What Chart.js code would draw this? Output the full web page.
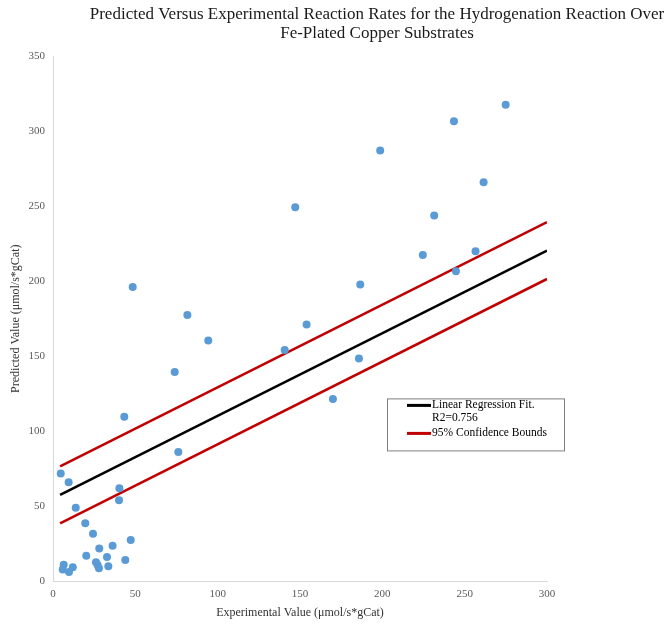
<!DOCTYPE html>
<html>
<head>
<meta charset="utf-8">
<script src="https://cdn.jsdelivr.net/npm/chart.js@4/dist/chart.umd.min.js"></script>
<style>
  html, body { margin: 0; padding: 0; background: #fff; overflow: hidden; }
  #wrap { width: 672px; height: 624px; overflow: hidden; position: relative; }
  #box { position: absolute; left: 0; top: 0; width: 754px; height: 624px; }
</style>
</head>
<body>
<div id="wrap"><div id="box"><canvas id="rateChart"></canvas></div></div>
<script>
const titleLines = ['Predicted Versus Experimental Reaction Rates for the Hydrogenation Reaction Over', 'Fe-Plated Copper Substrates'];
const xTitle = 'Experimental Value (μmol/s*gCat)';
const yTitle = 'Predicted Value (μmol/s*gCat)';

// measured points
const expX = [4.7, 9.5, 13.8, 19.6, 24.3, 47.2, 36.2, 28.1, 20.2, 32.8, 43.9, 26.1, 27.1, 27.9, 33.6, 6.5, 5.9, 9.7, 12.0, 40.3,
              40.1, 76.1, 43.3, 73.9, 94.3, 81.6, 48.4, 140.7, 154.0, 185.8, 170.0, 186.6, 147.1, 198.7, 224.6, 231.5, 244.7, 256.6, 261.5, 243.5, 274.9];
const predY = [71.7, 65.9, 48.8, 38.5, 31.6, 27.4, 23.6, 21.6, 16.9, 16.0, 14.0, 12.5, 10.7, 8.5, 9.8, 10.9, 7.6, 6.0, 9.1, 61.9,
               53.9, 86.0, 109.6, 139.4, 160.5, 177.5, 196.2, 154.1, 171.2, 148.5, 121.4, 197.9, 249.4, 287.2, 217.5, 243.8, 206.6, 220.0, 266.1, 306.8, 317.8];

// fit line and bounds (end points)
const fitX = [4.3, 300];
const fitY = [57.4, 220.4];
const upperY = [76.4, 239.4];
const lowerY = [38.5, 201.5];

const xTicks = [0, 50, 100, 150, 200, 250, 300];
const yTicks = [0, 50, 100, 150, 200, 250, 300, 350];

const pts = (xs, ys) => xs.map((x, i) => ({ x: x, y: ys[i] }));
const serif = "'Liberation Serif', 'Times New Roman', serif";

const boxLegend = {
    id: 'boxLegend',
    afterDraw(chart, args, opts) {
        const ctx = chart.ctx;
        const a = chart.chartArea;
        const left = a.left + opts.dx, top = a.top + opts.dy;
        ctx.save();
        ctx.fillStyle = '#fff';
        ctx.fillRect(left, top, opts.w, opts.h);
        ctx.strokeStyle = '#7f7f7f';
        ctx.lineWidth = 1;
        ctx.strokeRect(left + 0.5, top + 0.5, opts.w, opts.h);
        ctx.font = '11.5px ' + serif;
        ctx.textBaseline = 'middle';
        ctx.fillStyle = '#000';
        let y = top + 7;
        chart.data.datasets.forEach(ds => {
            if (!ds.legendText) return;
            ctx.strokeStyle = ds.borderColor;
            ctx.lineWidth = 3;
            ctx.beginPath();
            ctx.moveTo(left + 20, y);
            ctx.lineTo(left + 44, y);
            ctx.stroke();
            ds.legendText.forEach(t => {
                ctx.fillText(t, left + 45, y);
                y += 13;
            });
            y += 2;
        });
        ctx.restore();
    }
};

const lineDs = (label, ys, color, legendText) => ({
    type: 'line',
    label: label,
    data: pts(fitX, ys),
    borderColor: color,
    borderWidth: 2.5,
    pointRadius: 0,
    fill: false,
    legendText: legendText
});

new Chart(document.getElementById('rateChart'), {
    type: 'scatter',
    data: {
        datasets: [
            {
                label: 'Data',
                data: pts(expX, predY),
                backgroundColor: '#5b9bd5',
                borderColor: '#5b9bd5',
                pointRadius: 4,
                pointHoverRadius: 4,
                borderWidth: 0
            },
            lineDs('Linear Regression Fit', fitY, '#000000', ['Linear Regression Fit.', 'R2=0.756']),
            lineDs('Upper bound', upperY, '#c00000', ['95% Confidence Bounds']),
            lineDs('Lower bound', lowerY, '#c00000', null)
        ]
    },
    options: {
        responsive: true,
        maintainAspectRatio: false,
        animation: false,
        layout: { padding: 0 },
        plugins: {
            legend: { display: false },
            tooltip: { enabled: false },
            title: {
                display: true,
                text: titleLines,
                color: '#1a1a1a',
                font: { family: serif, size: 17, weight: 'normal', lineHeight: 1.1 },
                padding: { top: 5, bottom: 14 }
            },
            boxLegend: { dx: 334, dy: 342, w: 177, h: 52 }
        },
        scales: {
            x: {
                type: 'linear',
                min: 0,
                max: 300,
                afterBuildTicks: s => { s.ticks = xTicks.map(v => ({ value: v })); },
                afterFit: s => { s.height = 43; },
                grid: { display: false, drawTicks: false },
                border: { color: '#d9d9d9', width: 1 },
                ticks: { color: '#595959', padding: 7, font: { family: serif, size: 11 } },
                title: {
                    display: true,
                    text: xTitle,
                    color: '#333',
                    font: { family: serif, size: 12 },
                    padding: { top: 0, bottom: 4 }
                }
            },
            y: {
                type: 'linear',
                min: 0,
                max: 350,
                afterBuildTicks: s => { s.ticks = yTicks.map(v => ({ value: v })); },
                afterFit: s => { s.width = 53; },
                grid: { display: false, drawTicks: false },
                border: { color: '#d9d9d9', width: 1 },
                ticks: { color: '#595959', padding: 8, font: { family: serif, size: 11 } },
                title: {
                    display: true,
                    text: yTitle,
                    color: '#333',
                    font: { family: serif, size: 12 },
                    padding: { top: 9, bottom: 4 }
                }
            },
            // empty band on the right so the plot ends at 300 while the title stays centred on the wider page
            side: {
                type: 'linear',
                position: 'right',
                display: true,
                afterFit: s => { s.width = 207; },
                grid: { display: false, drawTicks: false },
                border: { display: false },
                ticks: { display: false }
            }
        }
    },
    plugins: [boxLegend]
});
</script>
</body>
</html>
